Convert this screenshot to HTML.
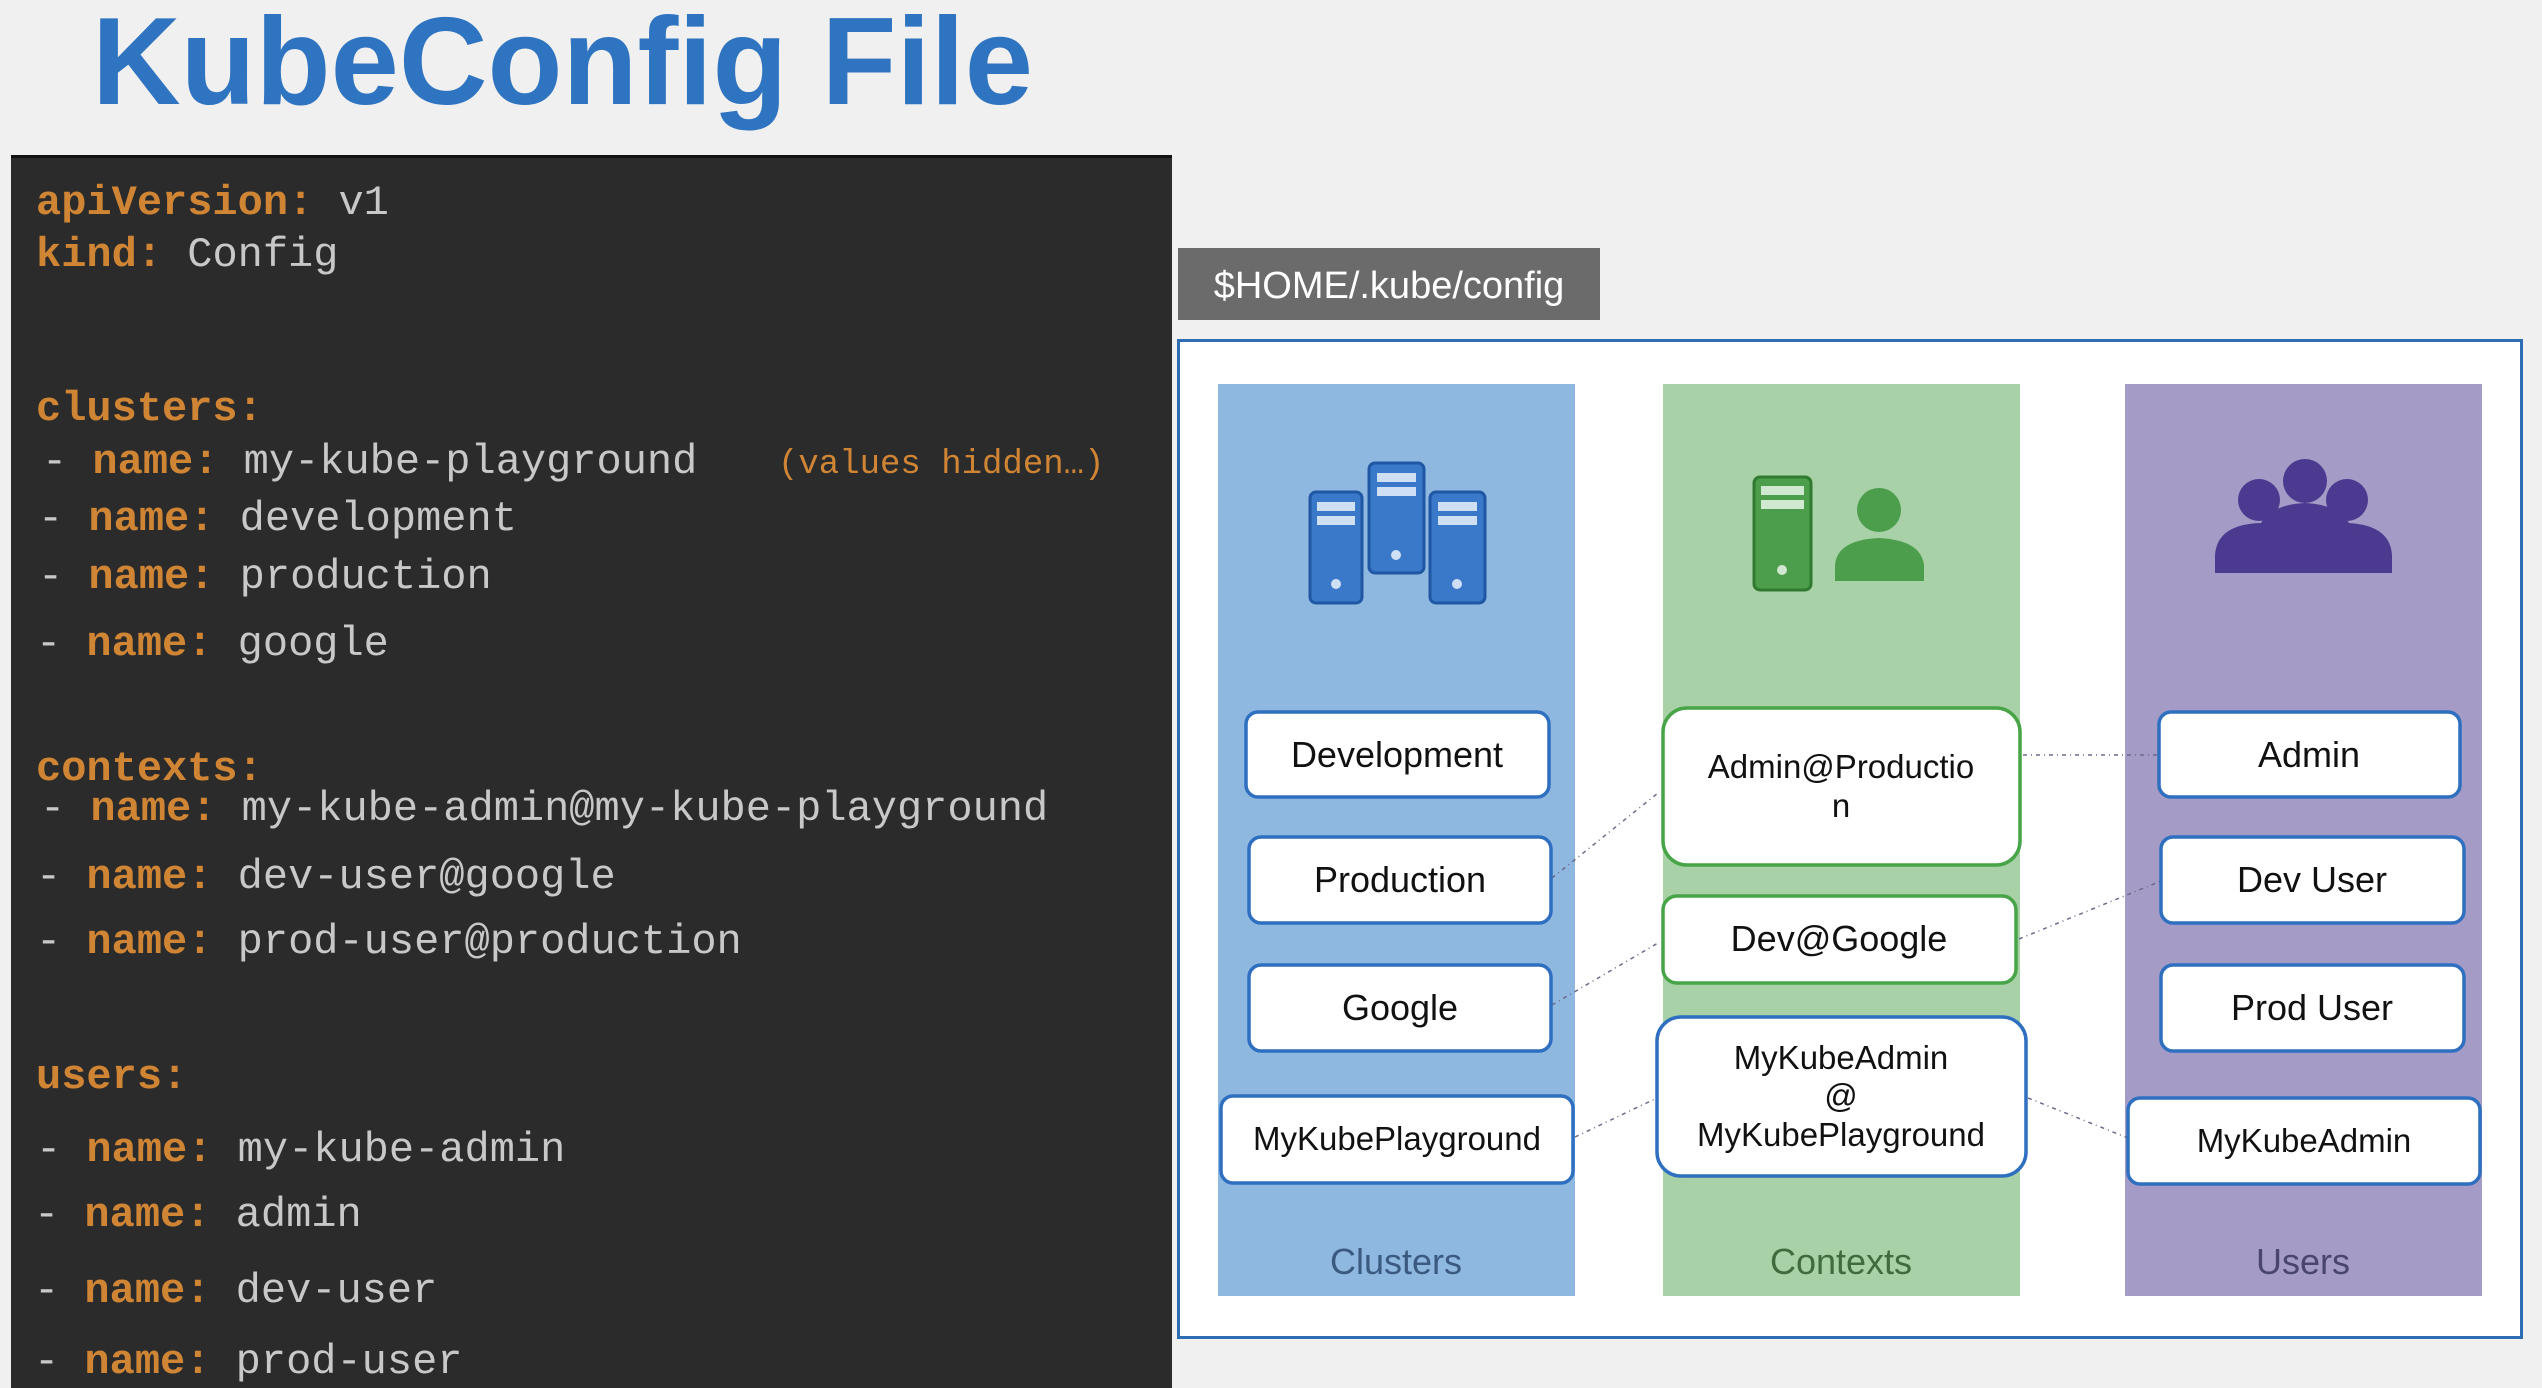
<!DOCTYPE html>
<html><head><meta charset="utf-8"><style>
html,body{margin:0;padding:0;background:#f0f0f0;}
svg{display:block}
</style></head><body>
<svg width="2542" height="1388" viewBox="0 0 2542 1388" xmlns="http://www.w3.org/2000/svg">
<rect width="2542" height="1388" fill="#f0f0f0"/>
<text x="92" y="104" font-family="Liberation Sans, sans-serif" font-weight="bold" font-size="124" fill="#2f74c0" textLength="941" lengthAdjust="spacingAndGlyphs">KubeConfig File</text>

<!-- code panel -->
<rect x="11" y="155" width="1161" height="1240" fill="#2b2b2b"/>
<rect x="11" y="155" width="1161" height="3" fill="#111"/>
<g font-family="Liberation Mono, monospace" font-size="42" xml:space="preserve">
<text x="36" y="214"><tspan fill="#d08535" font-weight="bold">apiVersion:</tspan><tspan fill="#c8c8c8"> v1</tspan></text>
<text x="36" y="266"><tspan fill="#d08535" font-weight="bold">kind:</tspan><tspan fill="#c8c8c8"> Config</tspan></text>
<text x="36" y="420"><tspan fill="#d08535" font-weight="bold">clusters:</tspan></text>
<text x="42" y="473"><tspan fill="#c8c8c8">- </tspan><tspan fill="#d08535" font-weight="bold">name:</tspan><tspan fill="#c8c8c8"> my-kube-playground</tspan></text>
<text x="778" y="473" font-size="34" fill="#d08535">(values hidden…)</text>
<text x="38" y="530"><tspan fill="#c8c8c8">- </tspan><tspan fill="#d08535" font-weight="bold">name:</tspan><tspan fill="#c8c8c8"> development</tspan></text>
<text x="38" y="588"><tspan fill="#c8c8c8">- </tspan><tspan fill="#d08535" font-weight="bold">name:</tspan><tspan fill="#c8c8c8"> production</tspan></text>
<text x="36" y="655"><tspan fill="#c8c8c8">- </tspan><tspan fill="#d08535" font-weight="bold">name:</tspan><tspan fill="#c8c8c8"> google</tspan></text>
<text x="36" y="780"><tspan fill="#d08535" font-weight="bold">contexts:</tspan></text>
<text x="40" y="820"><tspan fill="#c8c8c8">- </tspan><tspan fill="#d08535" font-weight="bold">name:</tspan><tspan fill="#c8c8c8"> my-kube-admin@my-kube-playground</tspan></text>
<text x="36" y="888"><tspan fill="#c8c8c8">- </tspan><tspan fill="#d08535" font-weight="bold">name:</tspan><tspan fill="#c8c8c8"> dev-user@google</tspan></text>
<text x="36" y="953"><tspan fill="#c8c8c8">- </tspan><tspan fill="#d08535" font-weight="bold">name:</tspan><tspan fill="#c8c8c8"> prod-user@production</tspan></text>
<text x="36" y="1088"><tspan fill="#d08535" font-weight="bold">users:</tspan></text>
<text x="36" y="1161"><tspan fill="#c8c8c8">- </tspan><tspan fill="#d08535" font-weight="bold">name:</tspan><tspan fill="#c8c8c8"> my-kube-admin</tspan></text>
<text x="34" y="1226"><tspan fill="#c8c8c8">- </tspan><tspan fill="#d08535" font-weight="bold">name:</tspan><tspan fill="#c8c8c8"> admin</tspan></text>
<text x="34" y="1302"><tspan fill="#c8c8c8">- </tspan><tspan fill="#d08535" font-weight="bold">name:</tspan><tspan fill="#c8c8c8"> dev-user</tspan></text>
<text x="34" y="1373"><tspan fill="#c8c8c8">- </tspan><tspan fill="#d08535" font-weight="bold">name:</tspan><tspan fill="#c8c8c8"> prod-user</tspan></text>
</g>

<!-- right diagram -->
<rect x="1178" y="248" width="422" height="72" fill="#6b6b6b"/>
<text x="1389" y="298" text-anchor="middle" font-family="Liberation Sans, sans-serif" font-size="38" fill="#fff">$HOME/.kube/config</text>
<rect x="1178.5" y="340.5" width="1343" height="997" fill="#fff" stroke="#2e6db4" stroke-width="3"/>

<rect x="1218" y="384" width="357" height="912" fill="#8fb8e1"/>
<rect x="1663" y="384" width="357" height="912" fill="#a8d1a8"/>
<rect x="2125" y="384" width="357" height="912" fill="#a49cc7"/>

<g font-family="Liberation Sans, sans-serif" font-size="36" text-anchor="middle">
<text x="1396" y="1274" fill="#3b5a80">Clusters</text>
<text x="1841" y="1274" fill="#3f6b3f">Contexts</text>
<text x="2303" y="1274" fill="#4a4470">Users</text>
</g>

<!-- icons -->
<g fill="#3a78c9" stroke="#1f57a4" stroke-width="3">
<rect x="1310" y="492" width="52" height="111" rx="6"/>
<rect x="1369" y="463" width="55" height="110" rx="6"/>
<rect x="1430" y="492" width="55" height="111" rx="6"/>
</g>
<g fill="#cfe0f5">
<rect x="1317" y="502" width="38" height="9"/><rect x="1317" y="516" width="38" height="9"/>
<rect x="1377" y="473" width="39" height="9"/><rect x="1377" y="487" width="39" height="9"/>
<rect x="1438" y="502" width="39" height="9"/><rect x="1438" y="516" width="39" height="9"/>
<circle cx="1336" cy="584" r="5"/><circle cx="1396" cy="555" r="5"/><circle cx="1457" cy="584" r="5"/>
</g>
<rect x="1754" y="477" width="57" height="113" rx="6" fill="#4c9e4c" stroke="#2f7a2f" stroke-width="3"/>
<g fill="#cfe8cf"><rect x="1761" y="486" width="43" height="9"/><rect x="1761" y="500" width="43" height="9"/><circle cx="1782" cy="570" r="5"/></g>
<circle cx="1879" cy="510" r="22" fill="#4c9e4c"/>
<path d="M1835 581 L1835 565 Q1837 540 1879 538 Q1921 540 1924 565 L1924 581 Z" fill="#4c9e4c"/>
<g fill="#4b3a8f">
<circle cx="2259" cy="500" r="21"/><circle cx="2347" cy="500" r="21"/>
<path d="M2215 573 L2215 555 Q2217 525 2259 523 Q2301 525 2303 555 L2303 573 Z"/>
<path d="M2304 573 L2304 555 Q2306 525 2348 523 Q2390 525 2392 555 L2392 573 Z"/>
<path d="M2255 573 L2255 540 Q2260 505 2305 503 Q2350 505 2355 540 L2355 573 Z"/>
<circle cx="2305" cy="481" r="22"/>
</g>

<!-- connectors -->
<g stroke="#6b6b8a" stroke-width="1.5" stroke-dasharray="4 4 1 4" fill="none">
<line x1="1552" y1="878" x2="1658" y2="793"/>
<line x1="1552" y1="1005" x2="1658" y2="943"/>
<line x1="1575" y1="1137" x2="1657" y2="1098"/>
<line x1="2023" y1="755" x2="2159" y2="755"/>
<line x1="2019" y1="939" x2="2161" y2="881"/>
<line x1="2028" y1="1098" x2="2128" y2="1138"/>
</g>

<!-- boxes -->
<g fill="#fff" stroke-width="3.5">
<rect x="1246" y="712" width="303" height="85" rx="12" stroke="#2f6fc0"/>
<rect x="1249" y="837" width="302" height="86" rx="12" stroke="#2f6fc0"/>
<rect x="1249" y="965" width="302" height="86" rx="12" stroke="#2f6fc0"/>
<rect x="1221" y="1096" width="352" height="87" rx="12" stroke="#2f6fc0"/>
<rect x="1663" y="708" width="357" height="157" rx="24" stroke="#47a447"/>
<rect x="1663" y="896" width="353" height="87" rx="14" stroke="#47a447"/>
<rect x="1657" y="1017" width="369" height="159" rx="24" stroke="#2f6fc0"/>
<rect x="2159" y="712" width="301" height="85" rx="12" stroke="#2f6fc0"/>
<rect x="2161" y="837" width="303" height="86" rx="12" stroke="#2f6fc0"/>
<rect x="2161" y="965" width="303" height="86" rx="12" stroke="#2f6fc0"/>
<rect x="2128" y="1098" width="352" height="86" rx="12" stroke="#2f6fc0"/>
</g>
<g font-family="Liberation Sans, sans-serif" font-size="36" text-anchor="middle" fill="#111">
<text x="1397" y="767">Development</text>
<text x="1400" y="892">Production</text>
<text x="1400" y="1020">Google</text>
<text x="1397" y="1150" font-size="33">MyKubePlayground</text>
<text x="1841" y="778" font-size="33">Admin@Productio</text>
<text x="1841" y="817" font-size="33">n</text>
<text x="1839" y="951">Dev@Google</text>
<text x="1841" y="1069" font-size="33">MyKubeAdmin</text>
<text x="1841" y="1107" font-size="33">@</text>
<text x="1841" y="1146" font-size="33">MyKubePlayground</text>
<text x="2309" y="767">Admin</text>
<text x="2312" y="892">Dev User</text>
<text x="2312" y="1020">Prod User</text>
<text x="2304" y="1152" font-size="33">MyKubeAdmin</text>
</g>
</svg>
</body></html>
